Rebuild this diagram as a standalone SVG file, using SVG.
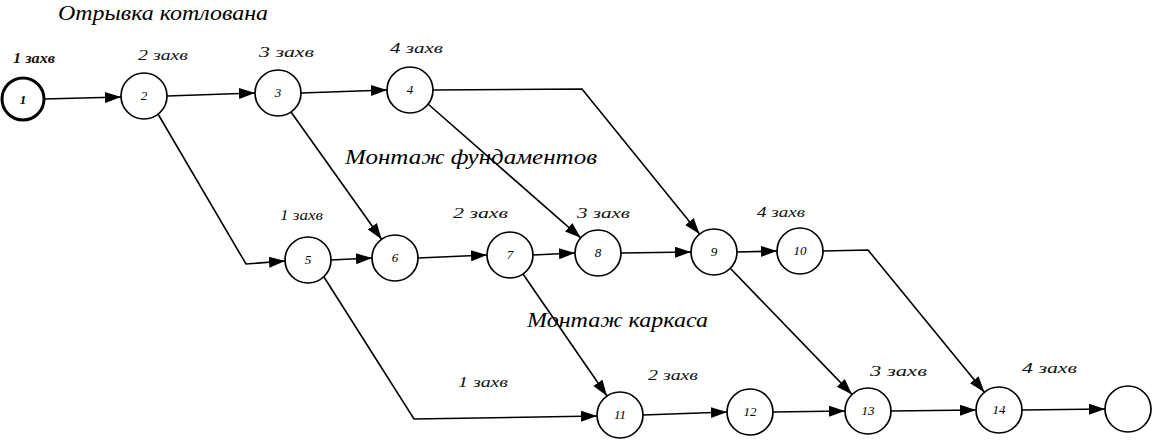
<svg xmlns="http://www.w3.org/2000/svg" width="1152" height="442" viewBox="0 0 1152 442">
<defs>
<marker id="ah" markerUnits="userSpaceOnUse" markerWidth="18" markerHeight="12" refX="16" refY="5.5" orient="auto">
<path d="M0,0 L16,5.5 L0,11 z" fill="#000"/>
</marker>
<style>
.n circle{fill:#fff;stroke:#000;stroke-width:1.7}
.n text{font-family:"Liberation Serif",serif;font-style:italic;font-size:13px;text-anchor:middle;fill:#000}
#edges path{fill:none;stroke:#000;stroke-width:1.6;marker-end:url(#ah)}
.lbl{font-family:"Liberation Serif",serif;font-style:italic;font-size:14px;fill:#111}
.title{font-family:"Liberation Serif",serif;font-style:italic;font-size:21px;fill:#000}
</style>
</defs>
<rect width="1152" height="442" fill="#fff"/>

<g id="labels">
<text class="title" x="58" y="20" textLength="210" lengthAdjust="spacingAndGlyphs">Отрывка котлована</text>
<text class="title" x="345" y="164" textLength="252" lengthAdjust="spacingAndGlyphs">Монтаж фундаментов</text>
<text class="title" x="527" y="327" textLength="181" lengthAdjust="spacingAndGlyphs">Монтаж каркаса</text>
<text class="lbl" x="13" y="63" textLength="42" lengthAdjust="spacingAndGlyphs" font-weight="bold">1 захв</text>
<text class="lbl" x="138" y="60" textLength="50" lengthAdjust="spacingAndGlyphs">2 захв</text>
<text class="lbl" x="259" y="57" textLength="55" lengthAdjust="spacingAndGlyphs">3 захв</text>
<text class="lbl" x="390" y="53" textLength="53" lengthAdjust="spacingAndGlyphs">4 захв</text>
<text class="lbl" x="280" y="220" textLength="43" lengthAdjust="spacingAndGlyphs">1 захв</text>
<text class="lbl" x="453" y="218" textLength="55" lengthAdjust="spacingAndGlyphs">2 захв</text>
<text class="lbl" x="577" y="218" textLength="53" lengthAdjust="spacingAndGlyphs">3 захв</text>
<text class="lbl" x="757" y="217" textLength="48" lengthAdjust="spacingAndGlyphs">4 захв</text>
<text class="lbl" x="458" y="387" textLength="50" lengthAdjust="spacingAndGlyphs">1 захв</text>
<text class="lbl" x="648" y="380" textLength="50" lengthAdjust="spacingAndGlyphs">2 захв</text>
<text class="lbl" x="870" y="376" textLength="57" lengthAdjust="spacingAndGlyphs">3 захв</text>
<text class="lbl" x="1022" y="373" textLength="55" lengthAdjust="spacingAndGlyphs">4 захв</text>
</g>

<g id="edges">
<path d="M44,99 L121,97"/>
<path d="M167,96 L255,93"/>
<path d="M301,93 L387,90"/>
<path d="M433,90 L582,89 L699.5,234"/>
<path d="M428,104 L580.7,237.8"/>
<path d="M158,114 L246,264 L285,261"/>
<path d="M291,112 L381.6,239.3"/>
<path d="M331,260 L372,258"/>
<path d="M418,258 L487,255"/>
<path d="M533,255 L575,253"/>
<path d="M621,253 L691,252"/>
<path d="M737,252 L777,251"/>
<path d="M324,277 L414,419 L597,416"/>
<path d="M523,274 L607,396"/>
<path d="M730,268 L852,394.4"/>
<path d="M823,251 L868,250 L984.4,392.2"/>
<path d="M643,415 L727,412"/>
<path d="M773,412 L845,411"/>
<path d="M891,411 L976,410"/>
<path d="M1022,410 L1105,409"/>
</g>

<g id="node1" class="n"><circle cx="23" cy="99" r="21" style="stroke-width:3"/><text x="23" y="104" font-weight="bold">1</text></g>
<g id="node2" class="n"><circle cx="144" cy="96" r="23"/><text x="144" y="100">2</text></g>
<g id="node3" class="n"><circle cx="278" cy="93" r="23"/><text x="278" y="97">3</text></g>
<g id="node4" class="n"><circle cx="410" cy="90" r="23"/><text x="410" y="94">4</text></g>
<g id="node5" class="n"><circle cx="308" cy="260" r="23"/><text x="308" y="264">5</text></g>
<g id="node6" class="n"><circle cx="395" cy="258" r="23"/><text x="395" y="262">6</text></g>
<g id="node7" class="n"><circle cx="510" cy="255" r="23"/><text x="510" y="259">7</text></g>
<g id="node8" class="n"><circle cx="598" cy="253" r="23"/><text x="598" y="257">8</text></g>
<g id="node9" class="n"><circle cx="714" cy="252" r="23"/><text x="714" y="256">9</text></g>
<g id="node10" class="n"><circle cx="800" cy="251" r="23"/><text x="800" y="255">10</text></g>
<g id="node11" class="n"><circle cx="620" cy="415" r="23"/><text x="620" y="419">11</text></g>
<g id="node12" class="n"><circle cx="750" cy="412" r="23"/><text x="750" y="416">12</text></g>
<g id="node13" class="n"><circle cx="868" cy="411" r="23"/><text x="868" y="415">13</text></g>
<g id="node14" class="n"><circle cx="999" cy="410" r="23"/><text x="999" y="414">14</text></g>
<g id="node15" class="n"><circle cx="1128" cy="409" r="23"/></g>
</svg>
